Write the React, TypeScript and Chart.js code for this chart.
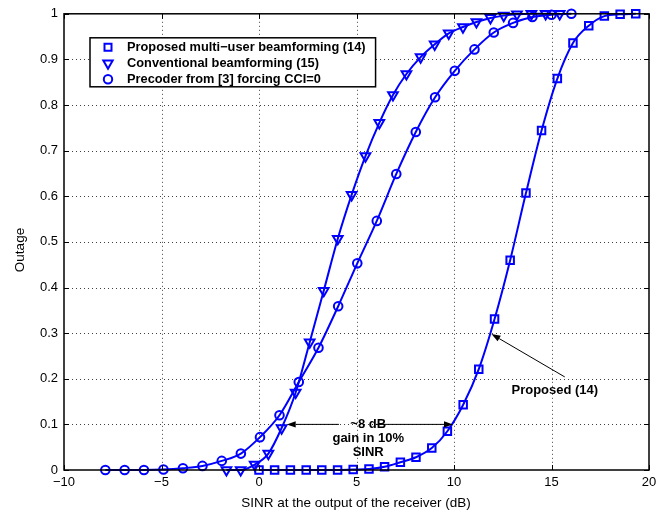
import React, { useEffect, useRef } from "react";
import { Chart, registerables } from "chart.js";

Chart.register(...registerables);

// ---- data ----
const seriesLabels = [
  "Proposed multi\u2212user beamforming (14)",
  "Conventional beamforming (15)",
  "Precoder from [3] forcing CCI=0",
];

const proposedX = [0, 0.8, 1.61, 2.42, 3.22, 4.03, 4.83, 5.64, 6.44, 7.25, 8.05, 8.86, 9.66, 10.47, 11.27, 12.08, 12.88, 13.69, 14.49, 15.3, 16.1, 16.91, 17.71, 18.52, 19.32];
const proposedY = [0, 0, 0, 0, 0, 0, 0.001, 0.002, 0.007, 0.017, 0.028, 0.048, 0.085, 0.143, 0.221, 0.331, 0.46, 0.607, 0.744, 0.858, 0.936, 0.974, 0.995, 0.999, 1.0];

const conventionalX = [-1.67, -0.94, -0.22, 0.48, 1.16, 1.88, 2.6, 3.32, 4.04, 4.75, 5.46, 6.17, 6.87, 7.56, 8.29, 9.01, 9.73, 10.46, 11.15, 11.87, 12.55, 13.23, 13.97, 14.7, 15.42];
const conventionalY = [0, 0, 0.012, 0.036, 0.092, 0.17, 0.28, 0.393, 0.507, 0.603, 0.688, 0.761, 0.822, 0.868, 0.905, 0.933, 0.957, 0.971, 0.982, 0.991, 0.996, 0.999, 1, 1, 1];

const precoderX = [-7.88, -6.89, -5.9, -4.9, -3.9, -2.9, -1.91, -0.93, 0.05, 1.05, 2.04, 3.05, 4.06, 5.04, 6.04, 7.04, 8.04, 9.03, 10.04, 11.05, 12.04, 13.03, 14.02, 15.0, 16.02];
const precoderY = [0, 0, 0, 0.001, 0.004, 0.009, 0.02, 0.036, 0.072, 0.12, 0.193, 0.268, 0.359, 0.453, 0.546, 0.649, 0.741, 0.817, 0.875, 0.922, 0.959, 0.98, 0.993, 0.998, 1.0];

const xTicks = [-10, -5, 0, 5, 10, 15, 20];
const yTicks = [0, 0.1, 0.2, 0.3, 0.4, 0.5, 0.6, 0.7, 0.8, 0.9, 1];

const xTitle = "SINR at the output of the receiver (dB)";
const yTitle = "Outage";

// annotations (data coordinates)
const gainLines = ["~8 dB", "gain in 10%", "SINR"];
const gainTextAt = [5.6, 0.1];
const gainArrowLeft = [4.1, 0.1, 1.42, 0.1];
const gainArrowRight = [6.0, 0.1, 9.95, 0.1];
const proposedNote = "Proposed (14)";
const proposedNoteAt = [15.17, 0.174];
const proposedArrow = [15.68, 0.204, 11.92, 0.298];

const BLUE = "#0000ff";
const FONT = "'Liberation Sans', Arial, Helvetica, sans-serif";

function zip(xs: number[], ys: number[]) {
  return xs.map((x, i) => ({ x, y: ys[i] }));
}

function drawMarker(ctx: CanvasRenderingContext2D, kind: number, cx: number, cy: number) {
  ctx.save();
  ctx.strokeStyle = BLUE;
  ctx.lineWidth = 2;
  ctx.beginPath();
  if (kind === 0) {
    ctx.rect(cx - 3.5, cy - 3.5, 7, 7);
  } else if (kind === 1) {
    const r = 5.4;
    ctx.moveTo(cx, cy + r);
    ctx.lineTo(cx - r * 0.866, cy - r / 2);
    ctx.lineTo(cx + r * 0.866, cy - r / 2);
    ctx.closePath();
  } else {
    ctx.arc(cx, cy, 4.2, 0, Math.PI * 2);
  }
  ctx.stroke();
  ctx.restore();
}

function arrow(ctx: CanvasRenderingContext2D, x1: number, y1: number, x2: number, y2: number) {
  const ang = Math.atan2(y2 - y1, x2 - x1);
  const L = 9, W = 3.2;
  const bx = x2 - L * Math.cos(ang), by = y2 - L * Math.sin(ang);
  ctx.beginPath();
  ctx.moveTo(x1, y1);
  ctx.lineTo(bx, by);
  ctx.stroke();
  ctx.beginPath();
  ctx.moveTo(x2, y2);
  ctx.lineTo(bx + W * Math.sin(ang), by - W * Math.cos(ang));
  ctx.lineTo(bx - W * Math.sin(ang), by + W * Math.cos(ang));
  ctx.closePath();
  ctx.fill();
}

const overlayPlugin = {
  id: "overlay",
  beforeDatasetsDraw(chart: any) {
    const { ctx, chartArea: a, scales } = chart;
    const xs = scales.x, ys = scales.y;
    ctx.save();
    ctx.strokeStyle = "rgba(0,0,0,0.75)";
    ctx.lineWidth = 1;
    ctx.setLineDash([1, 3]);
    xTicks.slice(1, -1).forEach((t) => {
      const px = Math.round(xs.getPixelForValue(t)) + 0.5;
      ctx.beginPath();
      ctx.moveTo(px, a.top);
      ctx.lineTo(px, a.bottom);
      ctx.stroke();
    });
    yTicks.slice(1, -1).forEach((t) => {
      const py = Math.round(ys.getPixelForValue(t)) + 0.5;
      ctx.beginPath();
      ctx.moveTo(a.left, py);
      ctx.lineTo(a.right, py);
      ctx.stroke();
    });
    ctx.restore();
  },
  afterDraw(chart: any) {
    const { ctx, chartArea: a, scales } = chart;
    const xs = scales.x, ys = scales.y;
    ctx.save();
    // box
    ctx.strokeStyle = "#000";
    ctx.lineWidth = 1.5;
    ctx.strokeRect(a.left, a.top, a.right - a.left, a.bottom - a.top);
    // inner ticks
    ctx.lineWidth = 1;
    const tl = 5;
    xTicks.forEach((t) => {
      const px = Math.round(xs.getPixelForValue(t)) + 0.5;
      ctx.beginPath();
      ctx.moveTo(px, a.bottom);
      ctx.lineTo(px, a.bottom - tl);
      ctx.moveTo(px, a.top);
      ctx.lineTo(px, a.top + tl);
      ctx.stroke();
    });
    yTicks.forEach((t) => {
      const py = Math.round(ys.getPixelForValue(t)) + 0.5;
      ctx.beginPath();
      ctx.moveTo(a.left, py);
      ctx.lineTo(a.left + tl, py);
      ctx.moveTo(a.right, py);
      ctx.lineTo(a.right - tl, py);
      ctx.stroke();
    });

    // axis titles
    ctx.fillStyle = "#000";
    ctx.font = `13.5px ${FONT}`;
    ctx.textAlign = "center";
    ctx.textBaseline = "middle";
    ctx.fillText(xTitle, 356, 503);
    ctx.save();
    ctx.translate(20, 250);
    ctx.rotate(-Math.PI / 2);
    ctx.fillText(yTitle, 0, 0);
    ctx.restore();

    // legend
    ctx.font = `bold 12.8px ${FONT}`;
    const tw = Math.max(...seriesLabels.map((s) => ctx.measureText(s).width));
    const lx = a.left + 26, ly = a.top + 24;
    const lw = 37 + tw + 10, lh = 49;
    ctx.fillStyle = "#fff";
    ctx.fillRect(lx, ly, lw, lh);
    ctx.strokeStyle = "#000";
    ctx.lineWidth = 1.5;
    ctx.strokeRect(lx, ly, lw, lh);
    ctx.textAlign = "left";
    ctx.textBaseline = "middle";
    seriesLabels.forEach((s, i) => {
      const ry = ly + 9.5 + i * 16;
      drawMarker(ctx, i, lx + 18, ry);
      ctx.fillStyle = "#000";
      ctx.fillText(s, lx + 37, ry);
    });

    // annotations
    ctx.strokeStyle = "#000";
    ctx.fillStyle = "#000";
    ctx.lineWidth = 1;
    const P = (x: number, y: number) => [xs.getPixelForValue(x), ys.getPixelForValue(y)];
    let [x1, y1] = P(gainArrowLeft[0], gainArrowLeft[1]);
    let [x2, y2] = P(gainArrowLeft[2], gainArrowLeft[3]);
    arrow(ctx, x1, y1, x2, y2);
    [x1, y1] = P(gainArrowRight[0], gainArrowRight[1]);
    [x2, y2] = P(gainArrowRight[2], gainArrowRight[3]);
    arrow(ctx, x1, y1, x2, y2);
    [x1, y1] = P(proposedArrow[0], proposedArrow[1]);
    [x2, y2] = P(proposedArrow[2], proposedArrow[3]);
    arrow(ctx, x1, y1, x2, y2);

    ctx.font = `bold 13px ${FONT}`;
    ctx.textAlign = "center";
    const [gx, gy] = P(gainTextAt[0], gainTextAt[1]);
    gainLines.forEach((s, i) => ctx.fillText(s, gx, gy + i * 14.2));
    const [nx, ny] = P(proposedNoteAt[0], proposedNoteAt[1]);
    ctx.fillText(proposedNote, nx, ny);
    ctx.restore();
  },
};

export default function App() {
  const ref = useRef<HTMLCanvasElement | null>(null);
  useEffect(() => {
    if (!ref.current) return;
    const common = {
      borderColor: BLUE,
      borderWidth: 2,
      pointBorderColor: BLUE,
      pointBackgroundColor: "rgba(0,0,0,0)",
      pointBorderWidth: 2,
      backgroundColor: "rgba(0,0,0,0)",
      cubicInterpolationMode: "monotone" as const,
      clip: false as any,
      fill: false,
    };
    const chart = new Chart(ref.current, {
      type: "line",
      data: {
        datasets: [
          { ...common, label: seriesLabels[0], data: zip(proposedX, proposedY), pointStyle: "rect", pointRadius: 5.3, pointHoverRadius: 5.3 },
          { ...common, label: seriesLabels[1], data: zip(conventionalX, conventionalY), pointStyle: "triangle", pointRotation: 180, pointRadius: 5.6, pointHoverRadius: 5.6 },
          { ...common, label: seriesLabels[2], data: zip(precoderX, precoderY), pointStyle: "circle", pointRadius: 4.3, pointHoverRadius: 4.3 },
        ],
      },
      options: {
        animation: false,
        responsive: false,
        events: [],
        layout: { padding: { left: 0, right: 18, top: 10, bottom: 0 } },
        plugins: { legend: { display: false }, tooltip: { enabled: false } },
        scales: {
          x: {
            type: "linear",
            min: -10,
            max: 20,
            afterBuildTicks: (s: any) => { s.ticks = xTicks.map((v) => ({ value: v })); },
            afterFit: (s: any) => { s.height = 46; },
            grid: { display: false, drawTicks: false },
            border: { display: false },
            ticks: {
              color: "#000",
              font: { family: FONT, size: 13 },
              padding: 5,
              maxRotation: 0,
              callback: (v: any) => String(v).replace("-", "\u2212"),
            },
          },
          y: {
            type: "linear",
            min: 0,
            max: 1,
            afterBuildTicks: (s: any) => { s.ticks = yTicks.map((v) => ({ value: v })); },
            afterFit: (s: any) => { s.width = 64; },
            grid: { display: false, drawTicks: false },
            border: { display: false },
            ticks: {
              color: "#000",
              font: { family: FONT, size: 13 },
              padding: 6,
              callback: (v: any) => String(Math.round(Number(v) * 10) / 10),
            },
          },
        },
      },
      plugins: [overlayPlugin],
    });
    return () => chart.destroy();
  }, []);
  return (
    <div style={{ position: "absolute", left: 0, top: 0, width: 667, height: 516, background: "#fff" }}>
      <canvas ref={ref} width={667} height={516} style={{ display: "block" }} />
    </div>
  );
}
